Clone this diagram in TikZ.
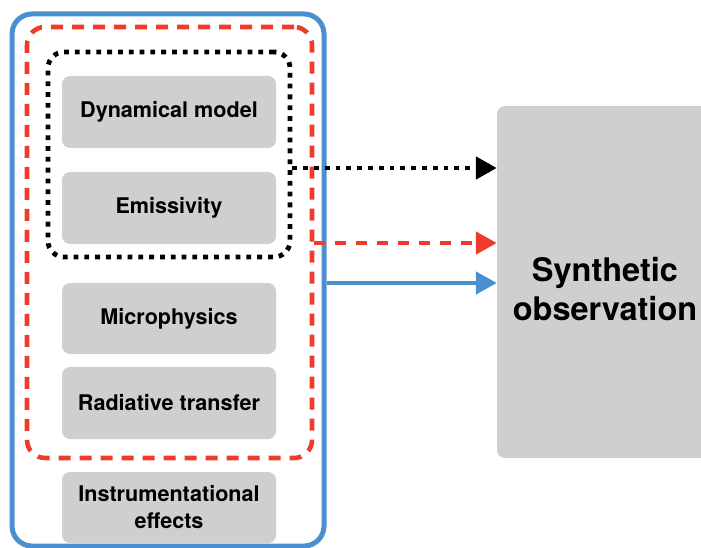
\documentclass[tikz,border=0pt]{standalone}
\usepackage{fontspec}
\setmainfont{TeX Gyre Heros}
\usetikzlibrary{arrows.meta}
\definecolor{cblue}{HTML}{4A90D0}
\definecolor{cred}{HTML}{EE3B2A}
\definecolor{cgray}{HTML}{CFCFCF}
\begin{document}
\begin{tikzpicture}[x=1pt,y=-1pt,
  gbox/.style={fill=cgray, rounded corners=8pt, minimum width=214pt, minimum height=72pt, inner sep=0pt,
    font=\fontsize{21.6}{27}\selectfont\bfseries, align=center},
  bluebox/.style={draw=cblue, line width=5pt, rounded corners=20pt},
  redbox/.style={draw=cred, line width=4.6pt, rounded corners=18pt, dash pattern=on 12pt off 9pt},
  blackbox/.style={draw=black, line width=4.8pt, rounded corners=16pt, dash pattern=on 4.8pt off 6pt},
  tip/.style={-{Triangle[length=21pt,width=22pt]}}
]
\useasboundingbox (0,0) rectangle (701,548);
\node[bluebox, minimum width=312pt, minimum height=532pt] (blue) at (168,280) {};
\node[redbox, minimum width=285pt, minimum height=431pt] (red) at (169.5,242.5) {};
\node[blackbox, minimum width=242pt, minimum height=205pt] (blk) at (169,154.5) {};
\node[gbox] (dyn) at (169,112) {Dynamical model};
\node[gbox] (emi) at (169,208) {Emissivity};
\node[gbox, minimum height=71pt] (mic) at (169,318.5) {Microphysics};
\node[gbox] (rad) at (169,403) {Radiative transfer};
\node[gbox, minimum height=71pt] (ins) at (169,507.5) {Instrumentational\\effects};
\node[fill=cgray, rounded corners=8pt, minimum width=216pt, minimum height=352pt, inner sep=0pt] (syn) at (605,282) {};
\node[font=\fontsize{32.5}{39}\selectfont\bfseries, align=center, inner sep=0pt] (synt) at (605,289) {Synthetic\\observation};
\draw[tip, black, line width=4.8pt, dash pattern=on 4.8pt off 6pt] (blk.east |- 0,168) -- (syn.west |- 0,168);
\draw[tip, cred, line width=4.6pt, dash pattern=on 11pt off 10pt] (red.east |- 0,243) -- (syn.west |- 0,243);
\draw[tip, cblue, line width=4.5pt] (blue.east |- 0,283) -- (syn.west |- 0,283);
\end{tikzpicture}
\end{document}
